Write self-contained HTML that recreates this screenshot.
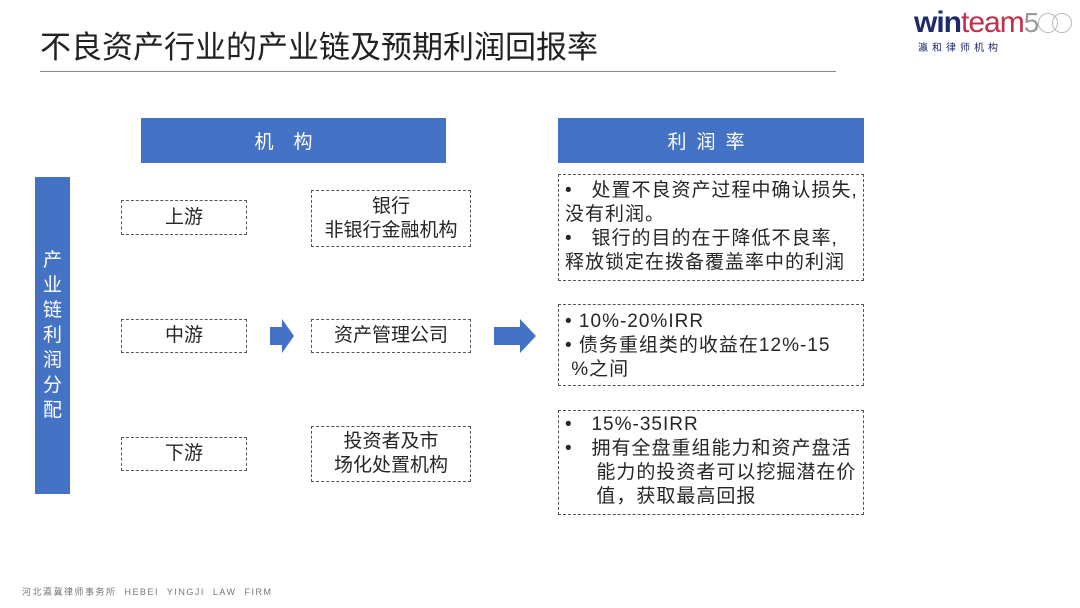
<!DOCTYPE html><html><head><meta charset="utf-8"><style>
body{margin:0;width:1080px;height:608px;background:#fff;position:relative;overflow:hidden;font-family:"Liberation Sans","Noto Sans CJK SC",sans-serif;color:#262626}
.a{position:absolute;box-sizing:border-box}
.blue{background:#4472c4;color:#fff;display:flex;align-items:center;justify-content:center}
.d{border:1px dashed #555;display:flex;align-items:center;justify-content:center;text-align:center;font-size:19px;line-height:24px}
.r{border:1px dashed #555;font-size:19px;line-height:24px;padding:2px 6px;letter-spacing:1px;white-space:nowrap}
</style></head><body>
<div class="a" style="left:40px;top:22px;font-size:31px;color:#222">不良资产行业的产业链及预期利润回报率</div>
<div class="a" style="left:40px;top:71px;width:796px;height:1px;background:#888"></div>
<div class="a" style="left:914px;top:6px;font-size:30px;font-weight:bold;color:#1f2a6b;letter-spacing:-1px">win<span style="font-weight:normal;color:#c0304a">team</span><span style="font-weight:normal;color:#999;font-size:28px">5</span><span style="display:inline-block;width:18px;height:18px;border:1px solid #bbb;border-radius:50%;vertical-align:-1px"></span><span style="display:inline-block;width:18px;height:18px;border:1px solid #bbb;border-radius:50%;margin-left:-6px;vertical-align:-1px"></span></div>
<div class="a" style="left:918px;top:39px;font-size:10px;color:#1f2a6b;letter-spacing:4px">瀛和律师机构</div>
<div class="a blue" style="left:141px;top:118px;width:305px;height:45px;font-size:19px;letter-spacing:20px">机构</div>
<div class="a blue" style="left:558px;top:118px;width:306px;height:45px;font-size:19px;letter-spacing:10px">利润率</div>
<div class="a blue" style="left:35px;top:177px;width:35px;height:317px;font-size:19px;flex-direction:column;line-height:25px">产<br>业<br>链<br>利<br>润<br>分<br>配</div>
<div class="a d" style="left:121px;top:200px;width:126px;height:35px">上游</div>
<div class="a d" style="left:121px;top:319px;width:126px;height:34px">中游</div>
<div class="a d" style="left:121px;top:437px;width:126px;height:34px">下游</div>
<div class="a d" style="left:311px;top:190px;width:160px;height:57px">银行<br>非银行金融机构</div>
<div class="a d" style="left:311px;top:319px;width:160px;height:34px">资产管理公司</div>
<div class="a d" style="left:311px;top:426px;width:160px;height:56px">投资者及市<br>场化处置机构</div>
<svg class="a" style="left:268px;top:318px" width="28" height="36"><polygon points="2,9 14,9 14,1 26,18 14,35 14,27 2,27" fill="#4472c4"/></svg>
<svg class="a" style="left:492px;top:318px" width="46" height="36"><polygon points="2,9 28,9 28,1 44,18 28,35 28,27 2,27" fill="#4472c4"/></svg>
<div class="a r" style="left:558px;top:174px;width:306px;height:107px;padding-top:4px">•&nbsp;&nbsp; 处置不良资产过程中确认损失,<br>没有利润。<br>•&nbsp;&nbsp; 银行的目的在于降低不良率,<br>释放锁定在拨备覆盖率中的利润</div>
<div class="a r" style="left:558px;top:304px;width:306px;height:82px;padding-top:5px">• 10%-20%IRR<br>• 债务重组类的收益在12%-15<br>&nbsp;%之间</div>
<div class="a r" style="left:558px;top:410px;width:306px;height:105px;padding-top:2px">•&nbsp;&nbsp; 15%-35IRR<br>•&nbsp;&nbsp; 拥有全盘重组能力和资产盘活<br>&nbsp;&nbsp;&nbsp;&nbsp;&nbsp;能力的投资者可以挖掘潜在价<br>&nbsp;&nbsp;&nbsp;&nbsp;&nbsp;值，获取最高回报</div>
<div class="a" style="left:22px;top:585px;font-size:9px;color:#777;letter-spacing:1.5px">河北瀛冀律师事务所&nbsp; HEBEI&nbsp; YINGJI&nbsp; LAW&nbsp; FIRM</div>
</body></html>
